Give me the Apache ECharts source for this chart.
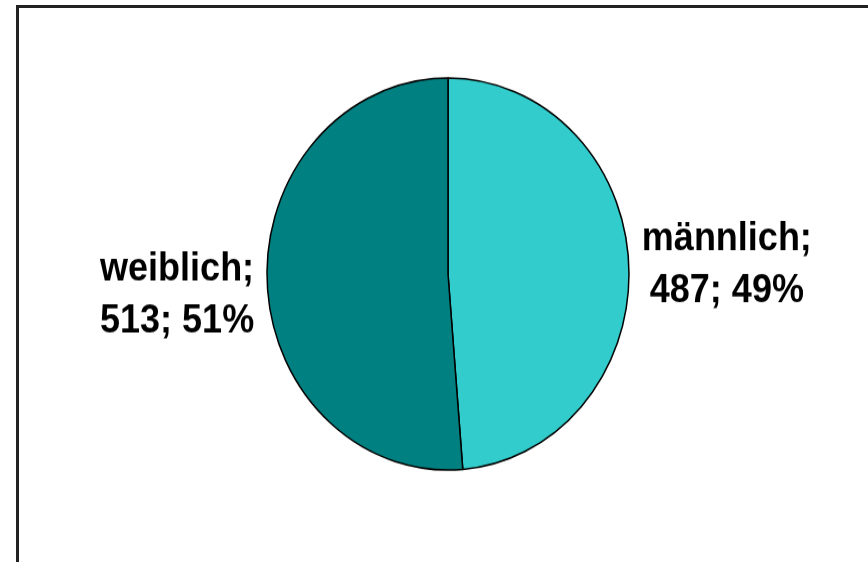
<!DOCTYPE html>
<html>
<head>
    <meta charset="UTF-8">
    <title>Geschlecht</title>
    <style>
        * { margin: 0; padding: 0; }
        html, body { width: 868px; height: 562px; background: #fff; overflow: hidden; }
        #frame {
            position: absolute; left: 16px; top: 5px; right: 0; bottom: 0;
            border-left: 3px solid #222; border-top: 3px solid #222;
        }
        /* the original chart is stretched vertically, so the pie is an ellipse */
        #chart {
            position: absolute; left: 0; top: 0;
            width: 868px; height: 519px;
            transform: scaleY(1.0829); transform-origin: 0 0;
        }
    </style>
</head>
<body>
    <div id="chart"></div>
    <div id="frame"></div>
    <script src="https://cdn.jsdelivr.net/npm/echarts@6/dist/echarts.min.js"></script>
    <script>
        const categories = ['männlich', 'weiblich'];
        const counts = [487, 513];
        const colors = ['#33CCCC', '#008080'];
        // label nudge (top padding) per slice, weiblich sits a bit lower
        const labelPad = [[0, 0, 0, 0], [26, 0, 0, 0]];

        const chart = echarts.init(document.getElementById('chart'), null, { renderer: 'canvas' });

        chart.setOption({
            animation: false,
            backgroundColor: 'transparent',
            series: [{
                type: 'pie',
                center: [448, 253],
                radius: 181,
                startAngle: 90,
                clockwise: true,
                avoidLabelOverlap: false,
                itemStyle: {
                    borderColor: '#000',
                    borderWidth: 1.5
                },
                label: {
                    show: true,
                    position: 'outside',
                    formatter: p => '{t|' + p.name + ';}\n{t|' + p.value + '; ' + Math.round(p.percent) + '%}',
                    rich: {
                        t: {
                            align: 'center',
                            fontFamily: 'Arial, "Liberation Sans", sans-serif',
                            fontWeight: 'bold',
                            fontSize: 36,
                            lineHeight: 48,
                            color: '#000'
                        }
                    }
                },
                labelLine: { show: false, length: 4, length2: 4 },
                emphasis: { disabled: true },
                data: categories.map((c, i) => ({
                    name: c,
                    value: counts[i],
                    itemStyle: { color: colors[i] },
                    label: { padding: labelPad[i] }
                }))
            }]
        });
    </script>
</body>
</html>
